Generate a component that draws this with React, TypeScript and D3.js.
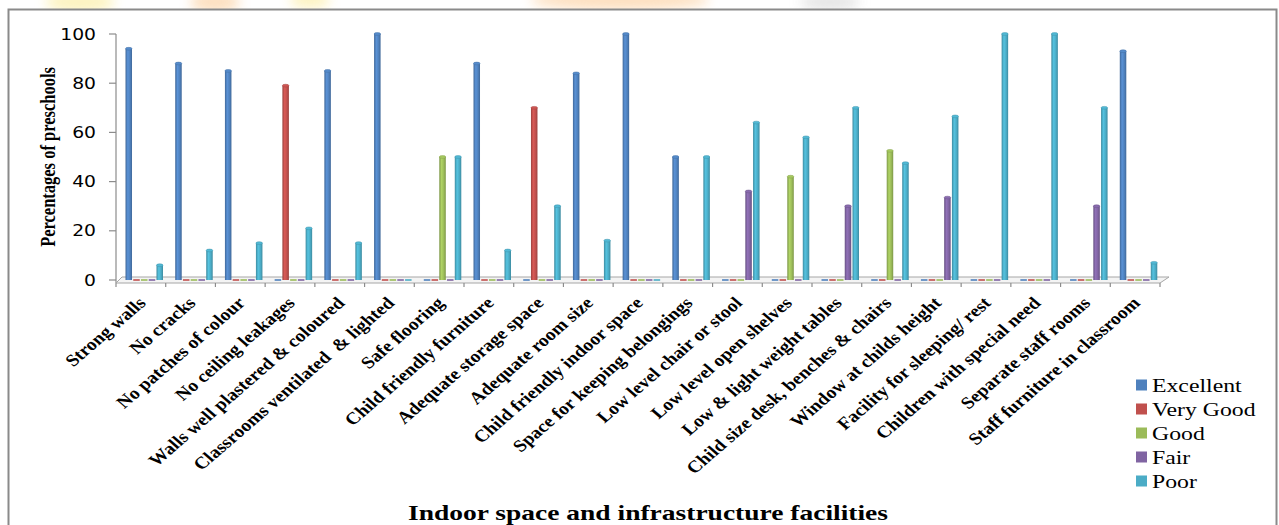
import React from "react";
import * as d3 from "d3";

const categories = [
  "Strong walls",
  "No cracks",
  "No patches of colour",
  "No ceiling leakages",
  "Walls well plastered & coloured",
  "Classrooms ventilated  & lighted",
  "Safe flooring",
  "Child friendly furniture",
  "Adequate storage space",
  "Adequate room size",
  "Child friendly indoor space",
  "Space for keeping belongings",
  "Low level chair or stool",
  "Low level open shelves",
  "Low & light weight tables",
  "Child size desk, benches & chairs",
  "Window at childs height",
  "Facility for sleeping/ rest",
  "Children with special need",
  "Separate staff rooms",
  "Staff furniture in classroom",
];

const seriesNames = ["Excellent", "Very Good", "Good", "Fair", "Poor"];

const excellent = [94, 88, 85, 0, 85, 100, 0, 88, 0, 84, 100, 50, 0, 0, 0, 0, 0, 0, 0, 0, 93];
const veryGood = [0, 0, 0, 79, 0, 0, 0, 0, 70, 0, 0, 0, 0, 0, 0, 0, 0, 0, 0, 0, 0];
const good = [0, 0, 0, 0, 0, 0, 50, 0, 0, 0, 0, 0, 0, 42, 0, 52.5, 0, 0, 0, 0, 0];
const fair = [0, 0, 0, 0, 0, 0, 0, 0, 0, 0, 0, 0, 36, 0, 30, 0, 33.5, 0, 0, 30, 0];
const poor = [6, 12, 15, 21, 15, 0, 50, 12, 30, 16, 0, 50, 64, 58, 70, 47.5, 66.5, 100, 100, 70, 7];

const seriesValues = [excellent, veryGood, good, fair, poor];
const colors = ["#4F81BD", "#C0504D", "#9BBB59", "#8064A2", "#4BACC6"];
const yTicks = [0, 20, 40, 60, 80, 100];

const SX = 1.25; // horizontal stretch of the source image
const LSX = 1.16; // stretch used for rotated labels

export default function App() {
  const x0 = 116;
  const x1 = 1160;
  const yBase = 280;
  const x = d3.scaleBand<string>().domain(categories).range([x0, x1]).paddingInner(0).paddingOuter(0);
  const xs = d3.scaleBand<string>().domain(seriesNames).range([9.5, 47]).paddingInner(0.16).paddingOuter(0);
  const y = d3.scaleLinear().domain([0, 100]).range([yBase, 34]);
  const bw = xs.bandwidth();
  const serif = "'Liberation Serif', 'Times New Roman', serif";

  return (
    <div style={{ position: "absolute", left: 0, top: 0 }}>
      <svg width={1279} height={525} style={{ display: "block", background: "#fff" }}>
        <defs>
          {colors.map((c, i) => {
            const dk = d3.color(c)!.darker(0.6).formatHex();
            const lt = d3.color(c)!.brighter(0.35).formatHex();
            return (
              <linearGradient key={i} id={`g${i}`} x1="0" x2="1" y1="0" y2="0">
                <stop offset="0" stopColor={dk} />
                <stop offset="0.35" stopColor={lt} />
                <stop offset="0.7" stopColor={c} />
                <stop offset="1" stopColor={dk} />
              </linearGradient>
            );
          })}
          <filter id="blur" x="-50%" y="-50%" width="200%" height="200%">
            <feGaussianBlur stdDeviation="6" />
          </filter>
        </defs>

        {/* faint watermark above frame */}
        <g filter="url(#blur)" opacity={0.55}>
          <ellipse cx={80} cy={2} rx={35} ry={10} fill="#fbe98a" />
          <ellipse cx={215} cy={2} rx={25} ry={10} fill="#fbc58a" />
          <ellipse cx={310} cy={0} rx={20} ry={8} fill="#fbe98a" />
          <ellipse cx={620} cy={0} rx={90} ry={10} fill="#fbc58a" />
          <ellipse cx={830} cy={2} rx={30} ry={8} fill="#cfcfcf" />
        </g>
        <rect x={0} y={9} width={1279} height={520} fill="#fff" />

        {/* chart frame */}
        <rect x={8.5} y={9.5} width={1268} height={530} fill="none" stroke="#8a8a8a" strokeWidth={2} />

        {/* y axis title */}
        <text
          transform={`translate(55,157) scale(${SX},1) rotate(-90)`}
          textAnchor="middle"
          fontFamily={serif}
          fontWeight="bold"
          fontSize={16.5}
          fill="#000"
        >
          Percentages of preschools
        </text>

        {/* y axis */}
        <line x1={x0} x2={x0} y1={y(100)} y2={yBase + 3} stroke="#8c8c8c" strokeWidth={1.2} />
        {yTicks.map((t) => (
          <g key={t}>
            <line x1={x0 - 7} x2={x0} y1={y(t)} y2={y(t)} stroke="#8c8c8c" strokeWidth={1.2} />
            <text
              transform={`translate(${x0 - 20},${y(t) + 5.5}) scale(${SX},1)`}
              textAnchor="end"
              fontFamily="'DejaVu Sans', Verdana, sans-serif"
              fontSize={15}
              fill="#000"
            >
              {t}
            </text>
          </g>
        ))}

        {/* 3D floor */}
        <polygon
          points={`${x0},${yBase + 3} ${x1},${yBase + 3} ${x1 + 9},${yBase - 3} ${x0 + 6},${yBase - 3}`}
          fill="#f4f4f4"
          stroke="#a6a6a6"
          strokeWidth={1}
        />
        {categories.map((c, i) => (
          <line
            key={"t" + i}
            x1={x(c)!}
            x2={x(c)!}
            y1={yBase + 3}
            y2={yBase + 7}
            stroke="#8c8c8c"
            strokeWidth={1.2}
          />
        ))}
        <line x1={x1} x2={x1} y1={yBase + 3} y2={yBase + 7} stroke="#8c8c8c" strokeWidth={1.2} />

        {/* bars */}
        {categories.map((c, i) => (
          <g key={c}>
            {seriesNames.map((s, si) => {
              const v = seriesValues[si][i];
              const bx = x(c)! + xs(s)!;
              if (v <= 0) {
                return (
                  <rect key={s} x={bx} y={yBase - 1} width={bw} height={2} fill={colors[si]} opacity={0.8} />
                );
              }
              const top = y(v);
              return (
                <g key={s}>
                  <rect x={bx} y={top} width={bw} height={yBase - top} fill={`url(#g${si})`} />
                  <ellipse
                    cx={bx + bw / 2}
                    cy={top}
                    rx={bw / 2}
                    ry={1.4}
                    fill={d3.color(colors[si])!.brighter(0.2).formatHex()}
                    stroke={d3.color(colors[si])!.darker(0.4).formatHex()}
                    strokeWidth={0.5}
                  />
                </g>
              );
            })}
          </g>
        ))}

        {/* category labels */}
        {categories.map((c) => (
          <text
            key={"l" + c}
            transform={`translate(${x(c)! + x.bandwidth() / 2 + 6},${yBase + 24}) scale(${LSX},1) rotate(-45)`}
            textAnchor="end"
            fontFamily={serif}
            fontWeight="bold"
            fontSize={17}
            fill="#000"
            style={{ whiteSpace: "pre" }}
          >
            {c}
          </text>
        ))}

        {/* x axis title */}
        <text
          transform={`translate(648,520) scale(${SX},1)`}
          textAnchor="middle"
          fontFamily={serif}
          fontWeight="bold"
          fontSize={22}
          fill="#000"
        >
          Indoor space and infrastructure facilities
        </text>

        {/* legend */}
        {seriesNames.map((s, i) => (
          <g key={"lg" + s} transform={`translate(1136,${385 + i * 24})`}>
            <rect x={0} y={-5.5} width={11} height={11} fill={colors[i]} />
            <text
              transform={`translate(16,6.5) scale(${SX},1)`}
              fontFamily={serif}
              fontSize={19}
              fill="#000"
            >
              {s}
            </text>
          </g>
        ))}
      </svg>
    </div>
  );
}
